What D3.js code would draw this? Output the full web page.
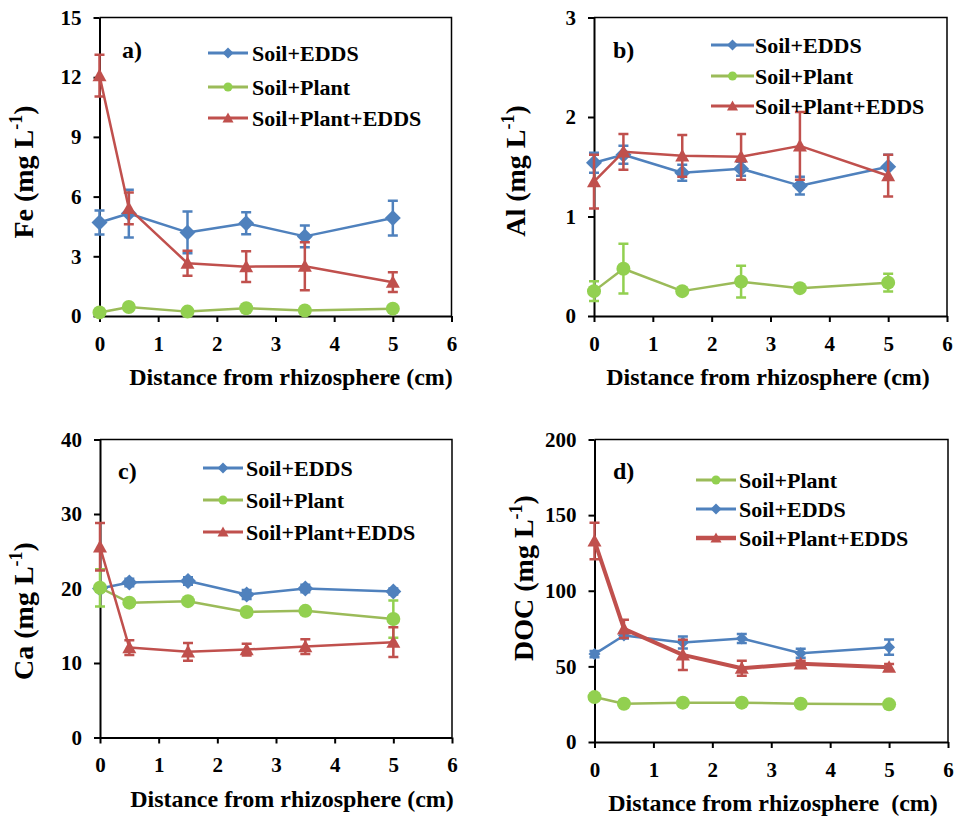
<!DOCTYPE html>
<html>
<head>
<meta charset="utf-8">
<script src="https://cdn.jsdelivr.net/npm/d3@7"></script>
<style>
  body { margin: 0; background: #fff; }
  svg { display: block; }
  svg text { font-family: 'Liberation Serif', 'Times New Roman', Times, serif; }
</style>
</head>
<body>
<div id="chart"></div>
<script>
// Distance from rhizosphere (cm) and the fixed x ticks
const distance = [0, 0.5, 1.5, 2.5, 3.5, 5];
const xTicks = [0, 1, 2, 3, 4, 5, 6];

// a) Fe
const feTicks = [0, 3, 6, 9, 12, 15];
const feEdds = [4.7, 5.15, 4.2, 4.66, 4.0, 4.92];
const feEddsErr = [0.6, 1.2, 1.05, 0.55, 0.55, 0.87];
const fePlant = [0.18, 0.45, 0.22, 0.39, 0.28, 0.37];
const fePlantErr = [0.05, 0.08, 0.04, 0.05, 0.04, 0.05];
const fePlantEdds = [12.08, 5.41, 2.65, 2.48, 2.5, 1.7];
const fePlantEddsErr = [1.05, 0.8, 0.63, 0.77, 1.2, 0.5];

// b) Al
const alTicks = [0, 1, 2, 3];
const alEdds = [1.54, 1.62, 1.44, 1.48, 1.31, 1.5];
const alEddsErr = [0.1, 0.09, 0.08, 0.07, 0.09, 0.12];
const alPlant = [0.25, 0.475, 0.25, 0.345, 0.28, 0.335];
const alPlantErr = [0.1, 0.25, 0.02, 0.16, 0.01, 0.09];
const alPlantEdds = [1.35, 1.65, 1.61, 1.6, 1.71, 1.41];
const alPlantEddsErr = [0.27, 0.18, 0.21, 0.23, 0.34, 0.21];

// c) Ca
const caTicks = [0, 10, 20, 30, 40];
const caEdds = [20.0, 20.8, 21.0, 19.2, 20.0, 19.6];
const caEddsErr = [0.4, 0.5, 0.5, 0.6, 0.5, 0.4];
const caPlant = [20.1, 18.1, 18.3, 16.85, 17.0, 15.9];
const caPlantErr = [2.5, 0.3, 0.3, 0.3, 0.3, 2.5];
const caPlantEdds = [25.6, 12.07, 11.5, 11.8, 12.2, 12.8];
const caPlantEddsErr = [3.2, 1.0, 1.2, 0.8, 1.0, 2.0];

// d) DOC
const docTicks = [0, 50, 100, 150, 200];
const docPlant = [29.7, 25.3, 26.0, 26.0, 25.3, 24.9];
const docPlantErr = [2, 1, 1, 1, 1, 1];
const docEdds = [58.1, 70.4, 65.8, 68.4, 58.7, 62.7];
const docEddsErr = [2, 2, 4, 3, 3, 5];
const docPlantEdds = [132.9, 74.8, 57.6, 48.8, 51.7, 49.5];
const docPlantEddsErr = [12, 6, 10, 5, 2, 2];

const BLUE = '#4f81bd', GREEN = '#92d050', GREEN_LINE = '#9bbb59', RED = '#c0504d';

const eddsStyle = { name: 'Soil+EDDS', color: BLUE, line: BLUE, shape: 'diamond', r: 8, width: 2.5 };
const plantStyle = { name: 'Soil+Plant', color: GREEN, line: GREEN_LINE, shape: 'circle', r: 7, width: 2.5 };
const plantEddsStyle = { name: 'Soil+Plant+EDDS', color: RED, line: RED, shape: 'triangle', r: 7, width: 2.5 };

const panels = [
  {
    letter: 'a)', element: 'Fe', yMax: 15, yTicks: feTicks,
    box: { left: 99.5, right: 451.5, top: 17.5, bottom: 316 },
    yLabel: { x: 33, y: 172 }, xTitleX: 291, xTitle: 'Distance from rhizosphere (cm)',
    letterPos: { x: 122, y: 58 },
    legend: { x0: 208, x1: 248, tx: 252, ys: [53, 87, 118] },
    series: [
      { ...eddsStyle, values: feEdds, errors: feEddsErr },
      { ...plantStyle, values: fePlant, errors: fePlantErr },
      { ...plantEddsStyle, values: fePlantEdds, errors: fePlantEddsErr }
    ]
  },
  {
    letter: 'b)', element: 'Al', yMax: 3, yTicks: alTicks,
    box: { left: 594, right: 947, top: 17.5, bottom: 316 },
    yLabel: { x: 525, y: 171 }, xTitleX: 768, xTitle: 'Distance from rhizosphere (cm)',
    letterPos: { x: 613, y: 58 },
    legend: { x0: 711, x1: 754, tx: 755, ys: [45, 76, 106] },
    series: [
      { ...eddsStyle, values: alEdds, errors: alEddsErr },
      { ...plantStyle, values: alPlant, errors: alPlantErr },
      { ...plantEddsStyle, values: alPlantEdds, errors: alPlantEddsErr }
    ]
  },
  {
    letter: 'c)', element: 'Ca', yMax: 40, yTicks: caTicks,
    box: { left: 100, right: 452, top: 439.5, bottom: 737.5 },
    yLabel: { x: 33, y: 611 }, xTitleX: 292, xTitle: 'Distance from rhizosphere (cm)',
    letterPos: { x: 118, y: 479 },
    legend: { x0: 203, x1: 243, tx: 246, ys: [468, 500, 532] },
    series: [
      { ...eddsStyle, values: caEdds, errors: caEddsErr },
      { ...plantStyle, values: caPlant, errors: caPlantErr },
      { ...plantEddsStyle, values: caPlantEdds, errors: caPlantEddsErr }
    ]
  },
  {
    letter: 'd)', element: 'DOC', yMax: 200, yTicks: docTicks,
    box: { left: 594.5, right: 948, top: 439.5, bottom: 742 },
    yLabel: { x: 533, y: 578 }, xTitleX: 773, xTitle: 'Distance from rhizosphere\u00a0 (cm)',
    letterPos: { x: 613, y: 479 },
    legend: { x0: 696, x1: 736, tx: 739, ys: [480, 509, 538] },
    series: [
      { ...plantStyle, values: docPlant, errors: docPlantErr },
      { ...eddsStyle, r: 6, values: docEdds, errors: docEddsErr },
      { ...plantEddsStyle, width: 4, values: docPlantEdds, errors: docPlantEddsErr }
    ]
  }
];

const svg = d3.select('#chart').append('svg')
  .attr('width', 957)
  .attr('height', 816);

function markerPath(shape, r) {
  if (shape === 'diamond') return `M0,${-r}L${r},0L0,${r}L${-r},0Z`;
  if (shape === 'triangle') return `M0,${-r}L${r},${r * 0.8}L${-r},${r * 0.8}Z`;
  return d3.symbol().type(d3.symbolCircle).size(Math.PI * r * r)();
}

function drawPanel(p) {
  const b = p.box;
  const x = d3.scaleLinear().domain([0, 6]).range([b.left, b.right]);
  const y = d3.scaleLinear().domain([0, p.yMax]).range([b.bottom, b.top]);
  const g = svg.append('g');

  // plot frame (top + right)
  g.append('path')
    .attr('d', `M${b.left},${b.top}H${b.right}V${b.bottom}`)
    .attr('fill', 'none')
    .attr('stroke', '#000')
    .attr('stroke-width', 1.5);

  // X axis
  const xa = g.append('g')
    .attr('transform', `translate(0,${b.bottom})`)
    .call(d3.axisBottom(x).tickValues(xTicks).tickFormat(d3.format('d'))
      .tickSize(6).tickSizeOuter(0).tickPadding(14));
  // Y axis
  const ya = g.append('g')
    .attr('transform', `translate(${b.left},0)`)
    .call(d3.axisLeft(y).tickValues(p.yTicks).tickFormat(d3.format('d'))
      .tickSize(6).tickSizeOuter(0).tickPadding(12));

  [xa, ya].forEach(a => {
    a.attr('font-family', null).attr('font-size', 21).attr('font-weight', 'bold');
    a.select('.domain').attr('stroke', '#000').attr('stroke-width', 2);
    a.selectAll('.tick line').attr('stroke', '#000').attr('stroke-width', 2);
    a.selectAll('.tick text').attr('fill', '#000');
  });

  // axis titles
  g.append('text')
    .attr('x', p.xTitleX)
    .attr('y', b.bottom + 69)
    .attr('text-anchor', 'middle')
    .attr('font-size', 24)
    .attr('font-weight', 'bold')
    .text(p.xTitle);

  const yt = g.append('text')
    .attr('transform', `translate(${p.yLabel.x},${p.yLabel.y}) rotate(-90)`)
    .attr('text-anchor', 'middle')
    .attr('font-size', 28)
    .attr('font-weight', 'bold');
  yt.append('tspan').text(`${p.element} (mg L`);
  yt.append('tspan').attr('font-size', 18).attr('dy', -11).text('-1');
  yt.append('tspan').attr('dy', 11).text(')');

  // panel letter
  g.append('text')
    .attr('x', p.letterPos.x)
    .attr('y', p.letterPos.y)
    .attr('font-size', 24)
    .attr('font-weight', 'bold')
    .text(p.letter);

  // series
  const line = d3.line().x(d => x(d.x)).y(d => y(d.v));
  p.series.forEach(s => {
    const pts = distance.map((d, i) => ({ x: d, v: s.values[i], e: s.errors[i] }));

    g.append('g')
      .attr('stroke', s.color)
      .attr('stroke-width', 2.5)
      .attr('fill', 'none')
      .selectAll('path')
      .data(pts)
      .join('path')
      .attr('d', d => {
        const cx = x(d.x), y1 = y(d.v + d.e), y2 = y(d.v - d.e);
        return `M${cx},${y1}V${y2}M${cx - 5},${y1}H${cx + 5}M${cx - 5},${y2}H${cx + 5}`;
      });

    g.append('path')
      .datum(pts)
      .attr('fill', 'none')
      .attr('stroke', s.line)
      .attr('stroke-width', s.width)
      .attr('stroke-linejoin', 'round')
      .attr('d', line);

    g.selectAll(null)
      .data(pts)
      .join('path')
      .attr('transform', d => `translate(${x(d.x)},${y(d.v)})`)
      .attr('d', markerPath(s.shape, s.r))
      .attr('fill', s.color);
  });

  // legend
  const L = p.legend;
  p.series.forEach((s, i) => {
    const ly = L.ys[i];
    g.append('line')
      .attr('x1', L.x0).attr('x2', L.x1)
      .attr('y1', ly).attr('y2', ly)
      .attr('stroke', s.line)
      .attr('stroke-width', s.width + 0.5);
    g.append('path')
      .attr('transform', `translate(${(L.x0 + L.x1) / 2},${ly})`)
      .attr('d', markerPath(s.shape, s.shape === 'circle' ? 4.5 : 5.5))
      .attr('fill', s.color);
    g.append('text')
      .attr('x', L.tx)
      .attr('y', ly + 8)
      .attr('font-size', 22)
      .attr('font-weight', 'bold')
      .text(s.name);
  });
}

panels.forEach(drawPanel);
</script>
</body>
</html>
